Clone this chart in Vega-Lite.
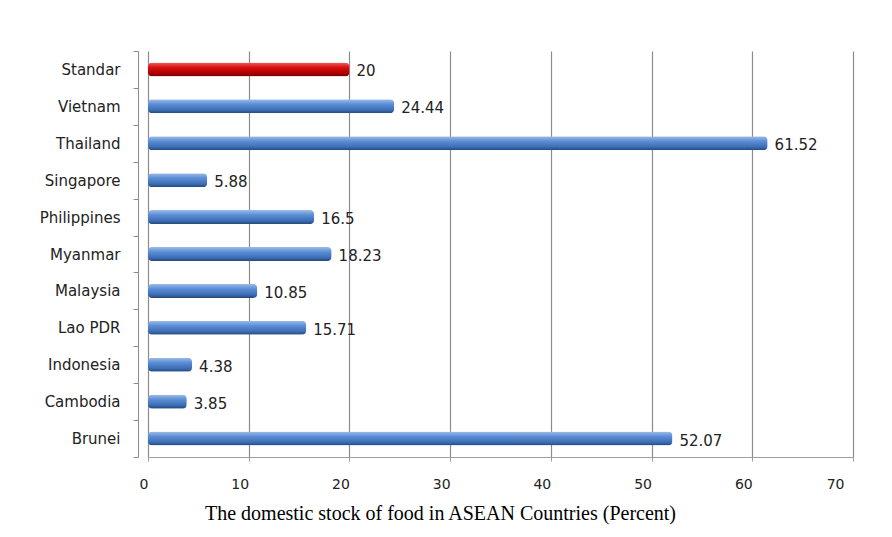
{
  "$schema": "https://vega.github.io/schema/vega-lite/v6.json",
  "width": 705,
  "height": 406,
  "autosize": {"type": "none"},
  "padding": {"left": 148, "top": 51, "right": 39, "bottom": 80},
  "background": "white",
  "config": {"view": {"stroke": null}},
  "data": {
    "values": [
      {"country": "Standar", "value": 20, "kind": "standard"},
      {"country": "Vietnam", "value": 24.44, "kind": "country"},
      {"country": "Thailand", "value": 61.52, "kind": "country"},
      {"country": "Singapore", "value": 5.88, "kind": "country"},
      {"country": "Philippines", "value": 16.5, "kind": "country"},
      {"country": "Myanmar", "value": 18.23, "kind": "country"},
      {"country": "Malaysia", "value": 10.85, "kind": "country"},
      {"country": "Lao PDR", "value": 15.71, "kind": "country"},
      {"country": "Indonesia", "value": 4.38, "kind": "country"},
      {"country": "Cambodia", "value": 3.85, "kind": "country"},
      {"country": "Brunei", "value": 52.07, "kind": "country"}
    ]
  },
  "encoding": {
    "y": {
      "field": "country",
      "type": "nominal",
      "sort": ["Standar", "Vietnam", "Thailand", "Singapore", "Philippines", "Myanmar", "Malaysia", "Lao PDR", "Indonesia", "Cambodia", "Brunei"],
      "scale": {"paddingInner": 0, "paddingOuter": 0},
      "axis": {
        "title": null,
        "offset": 10,
        "tickBand": "extent",
        "domainColor": "#8c8c8c",
        "tickColor": "#8c8c8c",
        "tickSize": 5,
        "labelPadding": 13,
        "labelFont": "DejaVu Sans",
        "labelFontSize": 15,
        "labelColor": "#222222"
      }
    },
    "x": {
      "field": "value",
      "type": "quantitative",
      "scale": {"domain": [0, 70], "nice": false},
      "axis": {
        "values": [0, 10, 20, 30, 40, 50, 60, 70],
        "grid": true,
        "gridColor": "#8c8c8c",
        "gridWidth": 1.2,
        "domainColor": "#a0a0a0",
        "tickColor": "#a0a0a0",
        "tickSize": 4,
        "labelOffset": -9,
        "labelPadding": 16,
        "labelFont": "DejaVu Sans",
        "labelFontSize": 14,
        "labelColor": "#222222",
        "title": "The domestic stock of food in ASEAN Countries (Percent)",
        "titleFont": "Liberation Serif",
        "titleFontSize": 20,
        "titleFontWeight": "normal",
        "titleColor": "#000000",
        "titleX": 292,
        "titleY": 56,
        "titleBaseline": "middle",
        "titleAnchor": "middle",
        "titleAlign": "center"
      }
    }
  },
  "layer": [
    {
      "transform": [{"filter": "datum.kind === 'country'"}],
      "mark": {
        "type": "bar",
        "height": 14,
        "cornerRadius": 4,
        "color": {
          "gradient": "linear",
          "x1": 0, "y1": 0, "x2": 0, "y2": 1,
          "stops": [
            {"offset": 0, "color": "#9dbce8"},
            {"offset": 0.35, "color": "#5b8ed6"},
            {"offset": 0.75, "color": "#3e6fb5"},
            {"offset": 1, "color": "#23487e"}
          ]
        }
      }
    },
    {
      "transform": [{"filter": "datum.kind === 'standard'"}],
      "mark": {
        "type": "bar",
        "height": 14,
        "cornerRadius": 4,
        "color": {
          "gradient": "linear",
          "x1": 0, "y1": 0, "x2": 0, "y2": 1,
          "stops": [
            {"offset": 0, "color": "#f06060"},
            {"offset": 0.35, "color": "#d81010"},
            {"offset": 0.75, "color": "#b00000"},
            {"offset": 1, "color": "#700000"}
          ]
        }
      }
    },
    {
      "mark": {
        "type": "text",
        "align": "left",
        "baseline": "middle",
        "dx": 7,
        "dy": 2,
        "font": "DejaVu Sans",
        "fontSize": 15,
        "color": "#222222"
      },
      "encoding": {"text": {"field": "value", "type": "quantitative"}}
    }
  ]
}
